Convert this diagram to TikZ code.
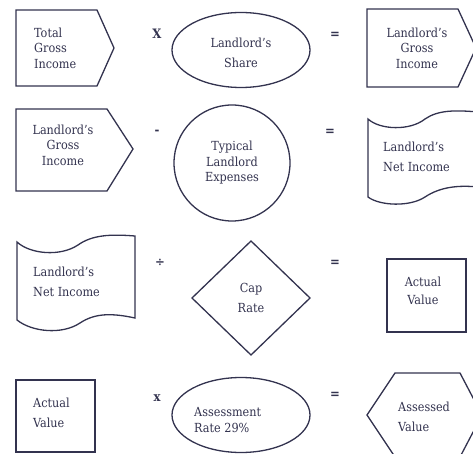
\documentclass[tikz,border=0pt]{standalone}
\usepackage{fontspec}
\setmainfont{DejaVu Serif Condensed}
\usetikzlibrary{shapes.geometric}
\definecolor{ink}{HTML}{33334F}
\begin{document}
\begin{tikzpicture}[x=1pt,y=-1pt,
  shp/.style={draw=ink,line width=1.3pt,line join=miter},
  txt/.style={text=ink,font=\fontsize{12.5}{15.5}\selectfont,inner sep=0pt},
  op/.style={text=ink,font=\fontsize{13}{16}\selectfont\bfseries,inner sep=0pt}]
\useasboundingbox (0,0) rectangle (473,454);
% ---------- row 1
\draw[shp] (16,10) -- (97,10) -- (114,48) -- (97,86) -- (16,86) -- cycle;
\node[txt,align=left,anchor=west] (t1a) at (34,48) {Total\\Gross\\Income};
\node[op] (o1) at (157,34) {X};
\node[shp,ellipse,minimum width=138pt,minimum height=75pt,inner sep=0pt] (e1) at (241,50) {};
\node[txt,align=center] (t1b) at (241,53) {Landlord's\\[4pt]Share};
\node[op] (q1) at (335,35) {=};
\draw[shp] (367,9) -- (458,9) -- (476,48) -- (458,87) -- (367,87) -- cycle;
\node[txt,align=center] (t1c) at (417,48) {Landlord's\\Gross\\Income};
% ---------- row 2
\draw[shp] (16,109) -- (107,109) -- (133,149) -- (107,191) -- (16,191) -- cycle;
\node[txt,align=center] (t2a) at (63,145) {Landlord's\\Gross\\Income};
\node[op] (o2) at (157,132) {-};
\node[shp,circle,minimum size=116pt,inner sep=0pt] (c2) at (232,163) {};
\node[txt,align=center] (t2b) at (232,163) {Typical\\Landlord\\Expenses};
\node[op] (q2) at (330,132) {=};
\draw[shp] (368,119) .. controls (380,130) and (410,131) .. (425,119)
  .. controls (438,110) and (455,110) .. (478,112) -- (478,187)
  .. controls (458,185) and (440,187) .. (425,197)
  .. controls (410,207) and (380,206) .. (368,197) -- cycle;
\node[txt,align=left,anchor=west] (t2c) at (383,157) {Landlord's\\[4pt]Net Income};
% ---------- row 3
\draw[shp] (17,242) .. controls (30,254) and (60,257) .. (78,245)
  .. controls (92,235) and (110,234) .. (135,236) -- (135,318)
  .. controls (112,313) and (95,313) .. (80,323)
  .. controls (62,335) and (32,332) .. (17,320) -- cycle;
\node[txt,align=left,anchor=west] (t3a) at (33,282) {Landlord's\\[4pt]Net Income};
\node[op] (o3) at (160,263) {÷};
\draw[shp] (251,241) -- (310,298) -- (251,355) -- (192,298) -- cycle;
\node[txt,align=center] (t3b) at (251,298) {Cap\\[4pt]Rate};
\node[op] (q3) at (335,263) {=};
\draw[shp] (387,259) rectangle (466,332);
\node[txt,align=center] (t3c) at (423,291) {Actual\\[2pt]Value};
% ---------- row 4
\draw[shp] (16,380) rectangle (95,452);
\node[txt,align=left,anchor=west] (t4a) at (33,413) {Actual\\[4pt]Value};
\node[op] (o4) at (157,398) {x};
\node[shp,ellipse,minimum width=138pt,minimum height=75pt,inner sep=0pt] (e4) at (241,415) {};
\node[txt,align=left,anchor=west] (t4b) at (194,420) {Assessment\\Rate 29\%};
\node[op] (q4) at (335,395) {=};
\draw[shp] (367,415) -- (395,373) -- (460,373) -- (482,415) -- (460,457) -- (395,457) -- cycle;
\node[txt,align=left,anchor=west] (t4c) at (398,417) {Assessed\\[4pt]Value};
\end{tikzpicture}
\end{document}
